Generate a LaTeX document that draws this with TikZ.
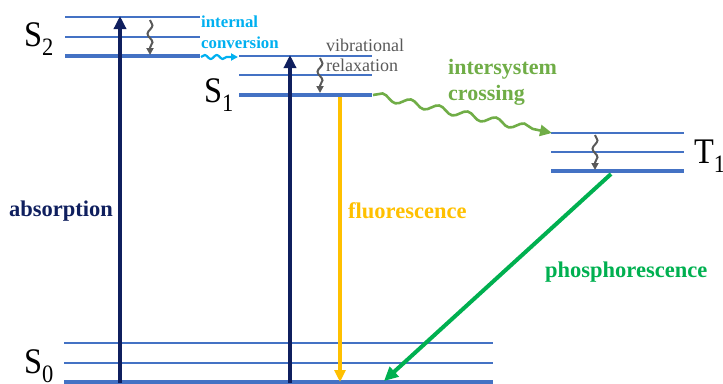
\documentclass[tikz,border=0pt]{standalone}
\usepackage{fontspec}
\setmainfont{Liberation Serif}
\usetikzlibrary{arrows.meta,decorations.pathmorphing,calc}
\definecolor{lvl}{HTML}{4472C4}
\definecolor{navy}{HTML}{0F1F5E}
\definecolor{fluo}{HTML}{FFC000}
\definecolor{phos}{HTML}{00B050}
\definecolor{isc}{HTML}{70AD47}
\definecolor{icc}{HTML}{00B0F0}
\definecolor{vib}{HTML}{595959}
\newcommand{\lvlsub}[1]{\raisebox{-9pt}{\fontsize{25}{25}\selectfont #1}}
\tikzset{
  thinlvl/.style={lvl, line width=2.6pt},
  thicklvl/.style={lvl, line width=4.6pt},
  vertarrow/.style={line width=3.6pt, -{Triangle[length=13pt,width=12pt]}},
  statelbl/.style={font=\fontsize{36}{36}\selectfont, anchor=base west, inner sep=0pt, xscale=0.9},
  proclbl/.style={font=\fontsize{22.5}{24}\selectfont\bfseries, inner sep=0pt},
  vibwave/.style={vib, line width=2pt, decorate,
     decoration={snake, amplitude=2.5pt, segment length=17pt, pre length=0pt, post length=6pt},
     -{Triangle[length=7pt,width=7pt]}},
}
\begin{document}
\begin{tikzpicture}[x=1pt,y=-1pt]
\useasboundingbox (0,0) rectangle (723,383);
% S2 levels
\draw[thinlvl] (65,17) -- (200,17);
\draw[thinlvl] (65,37) -- (200,37);
\draw[thicklvl] (65,56) -- (200,56);
% S1 levels
\draw[thinlvl] (239,56) -- (372,56);
\draw[thinlvl] (239,75) -- (372,75);
\draw[thicklvl] (239,95) -- (372,95);
% T1 levels
\draw[thinlvl] (551,133) -- (684,133);
\draw[thinlvl] (551,152) -- (684,152);
\draw[thicklvl] (551,171) -- (684,171);
% S0 levels
\draw[thinlvl] (64,343) -- (493,343);
\draw[thinlvl] (64,363) -- (493,363);
\draw[thicklvl] (64,382) -- (493,382);

% coordinates
\coordinate (a1s) at (120,383);
\coordinate (a1e) at (120,16);
\coordinate (a2s) at (290,383);
\coordinate (a2e) at (290,55);
\coordinate (fs) at (340,97);
\coordinate (fe) at (340,382);
\coordinate (ps) at (611,174);
\coordinate (pe) at (384,381);
\coordinate (v2s) at (150,20);
\coordinate (v2e) at (150,55);
\coordinate (v1s) at (320,58);
\coordinate (v1e) at (320,93);
\coordinate (vts) at (595,135);
\coordinate (vte) at (595,170);
\coordinate (ics) at (201,57);
\coordinate (ice) at (238,57);
\coordinate (iss) at (373,95);
\coordinate (ise) at (552,133);

% labels
\node[statelbl] (S2) at (24,46) {S\lvlsub{2}};
\node[statelbl] (S1) at (204,102) {S\lvlsub{1}};
\node[statelbl] (S0) at (24,373) {S\lvlsub{0}};
\node[statelbl] (T1) at (694,163) {T\lvlsub{1}};

% arrows
\draw[navy, vertarrow] (a1s) -- (a1e);
\draw[navy, vertarrow] (a2s) -- (a2e);
\draw[fluo, vertarrow, line width=3.4pt, -{Triangle[length=12pt,width=11pt]}] (fs) -- (fe);
\draw[phos, line width=4pt, -{Triangle[length=14pt,width=13pt]}] (ps) -- (pe);

% vibrational relaxation
\draw[vibwave] (v2s) -- (v2e);
\draw[vibwave] (v1s) -- (v1e);
\draw[vibwave] (vts) -- (vte);

% internal conversion
\draw[icc, line width=2.2pt, decorate, decoration={snake, amplitude=2pt, segment length=12pt, post length=6pt},
  -{Triangle[length=7pt,width=7pt]}] (ics) -- (ice);
% intersystem crossing
\draw[isc, line width=2.6pt, decorate, decoration={snake, amplitude=3.5pt, segment length=29pt, post length=10pt},
  -{Triangle[length=12pt,width=11pt]}] (iss) -- (ise);

% process labels
\node[proclbl, navy, anchor=west] (abs) at (9,211) {absorption};
\node[proclbl, fluo, anchor=west] (flu) at (348,211) {fluorescence};
\node[proclbl, phos, anchor=west] (pho) at (545,272) {phosphorescence};
\node[proclbl, isc, anchor=west, align=left, font=\fontsize{22}{26}\selectfont\bfseries] (iscl) at (448,82) {intersystem\\crossing};
\node[proclbl, icc, anchor=west, align=left, font=\fontsize{16.8}{21}\selectfont\bfseries] (icl) at (201,32) {internal\\conversion};
\node[proclbl, vib, anchor=west, align=left, font=\fontsize{18}{20}\selectfont] (vrl) at (326,55) {vibrational\\relaxation};
\end{tikzpicture}
\end{document}
